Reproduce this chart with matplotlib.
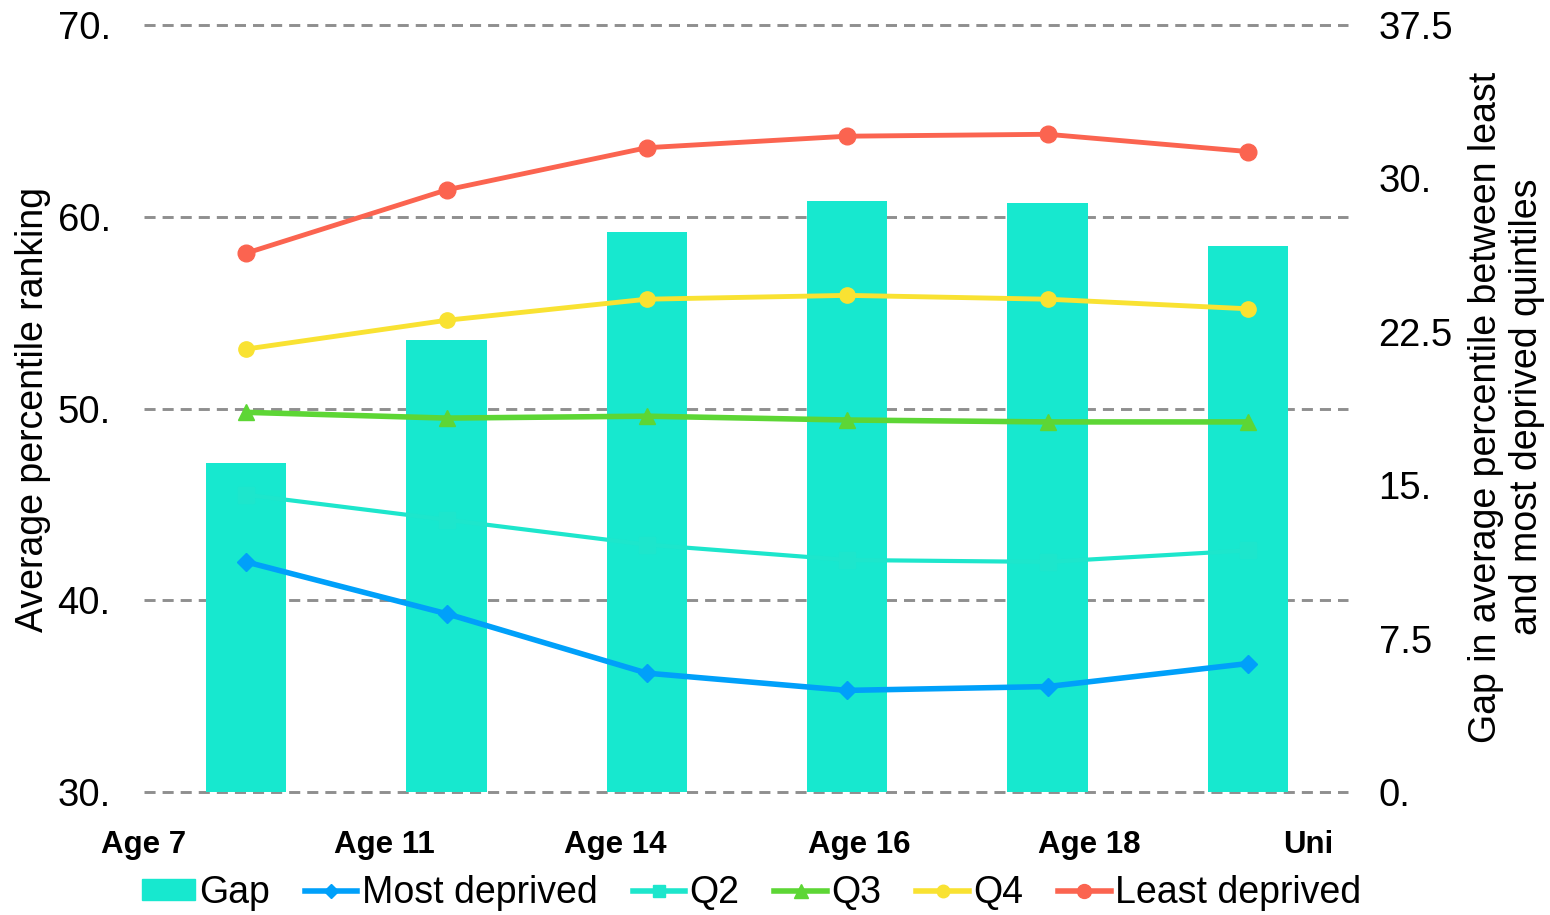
import matplotlib
matplotlib.use("Agg")
import matplotlib.pyplot as plt
from matplotlib.patches import Patch
from matplotlib.lines import Line2D
from matplotlib.ticker import FuncFormatter
from matplotlib.transforms import blended_transform_factory

plt.rcParams['font.family'] = ['Liberation Sans', 'DejaVu Sans']

stages = ["Age 7", "Age 11", "Age 14", "Age 16", "Age 18", "Uni"]
most_deprived = [42.0, 39.3, 36.2, 35.3, 35.5, 36.7]
q2 = [45.5, 44.2, 42.9, 42.1, 42.0, 42.6]
q3 = [49.8, 49.5, 49.6, 49.4, 49.3, 49.3]
q4 = [53.1, 54.6, 55.7, 55.9, 55.7, 55.2]
least_deprived = [58.1, 61.4, 63.6, 64.2, 64.3, 63.4]
gap = [16.1, 22.1, 27.4, 28.9, 28.8, 26.7]

# where the category labels sit (they are not under the bars in the original)
label_pos = [-0.51, 0.69, 1.84, 3.06, 4.21, 5.30]

c_gap = "#17E8CF"
c_most = "#00A0FA"
c_q2 = "#1DE6CC"
c_q3 = "#5DD635"
c_q4 = "#F9E232"
c_least = "#FB6450"

def fmt(v, pos):
    if abs(v - round(v)) < 1e-9:
        return "%d." % round(v)
    return "%g" % v

fig, ax = plt.subplots(figsize=(15.5, 9.15), dpi=100)
fig.subplots_adjust(left=0.0929, right=0.8697, top=0.9727, bottom=0.1344)
ax2 = ax.twinx()
ax.set_zorder(2)
ax.patch.set_visible(False)
ax2.set_zorder(1)

x = list(range(len(stages)))

# bars on the right axis
ax2.bar(x, gap, width=0.4, color=c_gap, zorder=2)
ax2.set_ylim(0, 37.5)
ax2.set_yticks([0, 7.5, 15, 22.5, 30, 37.5])
ax2.yaxis.set_major_formatter(FuncFormatter(fmt))

# gridlines follow the left axis but sit behind the bars
tr = blended_transform_factory(ax2.transAxes, ax.transData)
for v in [30, 40, 50, 60, 70]:
    ax2.plot([0, 1], [v, v], transform=tr, color="#8f8f8f", lw=2.1,
             dashes=(3.8, 2.4), zorder=1, clip_on=False)

ax.plot(x, most_deprived, color=c_most, lw=4, marker="D", ms=9)
ax.plot(x, q2, color=c_q2, lw=3, marker="s", ms=11)
ax.plot(x, q3, color=c_q3, lw=4, marker="^", ms=12)
ax.plot(x, q4, color=c_q4, lw=3.5, marker="o", ms=11)
ax.plot(x, least_deprived, color=c_least, lw=3.5, marker="o", ms=12)

ax.set_xlim(-0.5, 5.5)
ax.set_ylim(30, 70)
ax.set_yticks([30, 40, 50, 60, 70])
ax.yaxis.set_major_formatter(FuncFormatter(fmt))
ax.set_xticks(label_pos)
ax.set_xticklabels(stages, fontsize=22.5, fontweight="bold")

for a in (ax, ax2):
    for s in a.spines.values():
        s.set_visible(False)
    a.tick_params(length=0)
ax.tick_params(axis="y", labelsize=27.5, pad=24)
ax.tick_params(axis="x", pad=27)
ax2.tick_params(axis="y", labelsize=27.5, pad=22)

fig.text(0.0215, 0.553, "Average percentile ranking", rotation=90,
         ha="center", va="center", fontsize=27)
fig.text(0.972, 0.555, "Gap in average percentile between least\nand most deprived quintiles",
         rotation=90, ha="center", va="center", fontsize=27,
         multialignment="center", linespacing=1.2)

handles = [
    Patch(color=c_gap),
    Line2D([], [], color=c_most, lw=4, marker="D", ms=7),
    Line2D([], [], color=c_q2, lw=4, marker="s", ms=9),
    Line2D([], [], color=c_q3, lw=4, marker="^", ms=10),
    Line2D([], [], color=c_q4, lw=4, marker="o", ms=9),
    Line2D([], [], color=c_least, lw=4, marker="o", ms=10),
]
labels = ["Gap", "Most deprived", "Q2", "Q3", "Q4", "Least deprived"]
fig.legend(handles, labels, loc="center", bbox_to_anchor=(0.485, 0.024),
           ncol=6, frameon=False, fontsize=27, handlelength=1.4,
           handleheight=0.5, handletextpad=0.12, columnspacing=0.93,
           borderaxespad=0)

fig.savefig("out.png", dpi=100)
